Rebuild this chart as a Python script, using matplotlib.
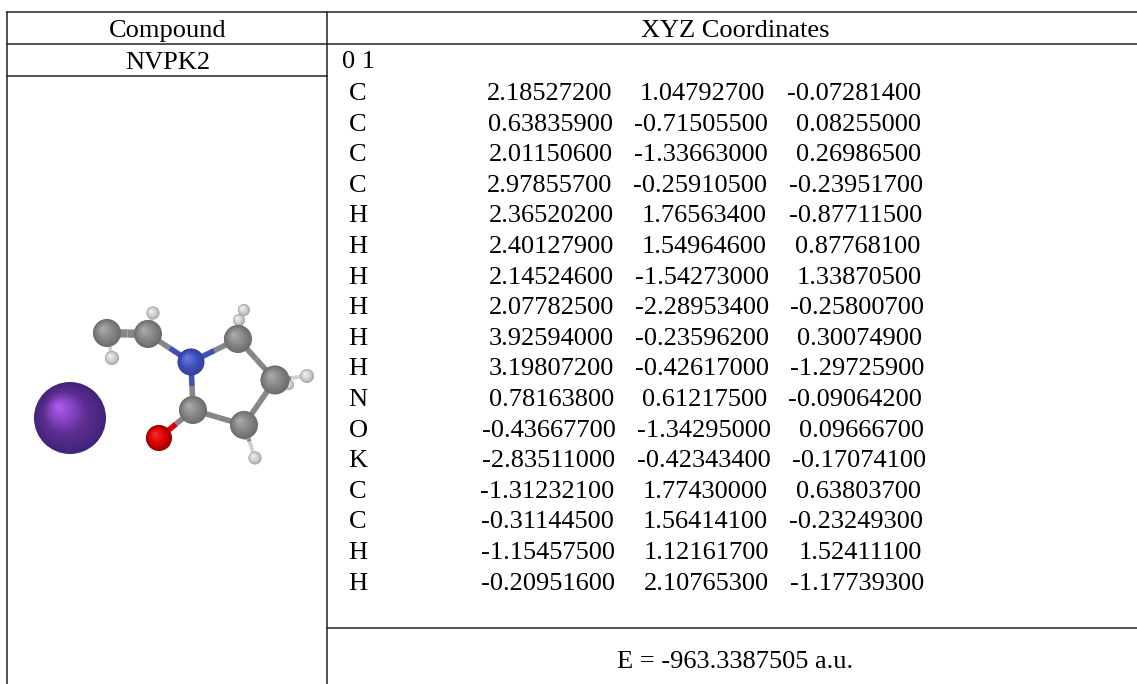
import matplotlib
matplotlib.use('Agg')
import matplotlib.pyplot as plt
import numpy as np
from matplotlib.patches import Circle

plt.rcParams['font.family'] = ['Liberation Serif', 'DejaVu Serif']

elements = ['C', 'C', 'C', 'C', 'H', 'H', 'H', 'H', 'H', 'H', 'N', 'O', 'K', 'C', 'C', 'H', 'H']
x_coord = ['2.18527200', '0.63835900', '2.01150600', '2.97855700', '2.36520200', '2.40127900',
           '2.14524600', '2.07782500', '3.92594000', '3.19807200', '0.78163800', '-0.43667700',
           '-2.83511000', '-1.31232100', '-0.31144500', '-1.15457500', '-0.20951600']
y_coord = ['1.04792700', '-0.71505500', '-1.33663000', '-0.25910500', '1.76563400', '1.54964600',
           '-1.54273000', '-2.28953400', '-0.23596200', '-0.42617000', '0.61217500', '-1.34295000',
           '-0.42343400', '1.77430000', '1.56414100', '1.12161700', '2.10765300']
z_coord = ['-0.07281400', '0.08255000', '0.26986500', '-0.23951700', '-0.87711500', '0.87768100',
           '1.33870500', '-0.25800700', '0.30074900', '-1.29725900', '-0.09064200', '0.09666700',
           '-0.17074100', '0.63803700', '-0.23249300', '1.52411100', '-1.17739300']

header_left = 'Compound'
header_right = 'XYZ Coordinates'
compound = 'NVPK2'
charge_line = '0 1'
energy = 'E = -963.3387505 a.u.'

# the columns were spaced by hand in the original, right edges wander a bit
x_right = [612.6, 612.6, 612.6, 612.6, 613.8, 613.8, 613.8, 613.8, 613.8, 613.8, 613.8,
           615.4, 615.4, 614.2, 614.2, 615.4, 615.4]
y_right = [764.8, 767.5, 767.5, 767.5, 766.8, 766.8, 768.7, 768.7, 768.7, 768.7, 766.8,
           770.7, 770.7, 767.5, 767.5, 768.7, 768.7]
z_right = [920.9, 920.9, 920.9, 922.9, 922.1, 920.1, 922.1, 924.1, 922.1, 924.1, 922.1,
           924.1, 926.5, 920.9, 922.9, 922.1, 924.1]

atom_x = [70, 289, 153, 112, 244, 239, 307, 246, 255, 107, 148, 238, 275, 244, 193, 159, 191]
atom_y = [418, 385, 313, 358, 310, 320, 376, 434, 458, 333, 334, 339, 380, 425, 410, 438, 362]
atom_r = [36, 5, 6.5, 7, 6, 6, 7, 6, 6.5, 14, 14, 14, 14.5, 14, 14, 13, 13.5]
atom_kind = ['K', 'H', 'H', 'H', 'H', 'H', 'H', 'H', 'H', 'C', 'C', 'C', 'C', 'C', 'C', 'O', 'N']
bond_from = [9, 10, 11, 12, 13, 14, 14, 16, 9, 10, 11, 11, 12, 12, 13, 13]
bond_to = [10, 16, 12, 13, 14, 16, 15, 11, 3, 2, 4, 5, 6, 1, 7, 8]

colours = {
    'K': ('#43247a', '#5c2e91', '#b25cf5'),
    'C': ('#6c6c6c', '#868686', '#adadad'),
    'H': ('#a8a8a8', '#d0d0d0', '#f4f4f4'),
    'N': ('#33409a', '#3f50bd', '#6f7ee0'),
    'O': ('#9a0000', '#df0000', '#f03030'),
}


def mix(c1, c2, t):
    a = np.array(matplotlib.colors.to_rgb(c1))
    b = np.array(matplotlib.colors.to_rgb(c2))
    return tuple(a + (b - a) * t)


def sphere(ax, x, y, r, kind):
    rim, base, high = colours[kind]
    steps = 30
    for i in range(steps):
        t = i / (steps - 1)
        if t < 0.4:
            col = mix(rim, base, t / 0.4)
        else:
            col = mix(base, high, (t - 0.4) / 0.6)
        rr = r * (1 - t * 0.97)
        cx = x - r * 0.33 * t
        cy = y - r * 0.33 * t
        ax.add_patch(Circle((cx, cy), rr, color=col, lw=0, zorder=3))


fig = plt.figure(figsize=(11.37, 6.84), dpi=100)
ax = fig.add_axes([0, 0, 1, 1])
ax.set_xlim(0, 1137)
ax.set_ylim(684, 0)
ax.axis('off')

# table rules
line = dict(color='#222222', lw=1.1, zorder=1)
ax.plot([7, 1137], [11.7, 11.7], **line)
ax.plot([7, 1137], [43.5, 43.5], **line)
ax.plot([7, 327], [75.7, 75.7], **line)
ax.plot([327, 1137], [627.7, 627.7], **line)
ax.plot([7, 7], [11.7, 684], **line)
ax.plot([327, 327], [11.7, 684], **line)

fs = 19
ax.text(167.3, 36.7, header_left, fontsize=fs, ha='center', va='baseline')
ax.text(735.5, 37, header_right, fontsize=fs, ha='center', va='baseline')
ax.text(167.3, 69, compound, fontsize=fs, ha='center', va='baseline')
ax.text(342, 68.3, charge_line, fontsize=fs, ha='left', va='baseline')
ax.text(735, 668, energy, fontsize=fs, ha='center', va='baseline')

row_y = 100
for k in range(len(elements)):
    ax.text(348.6, row_y, elements[k], fontsize=fs, ha='left', va='baseline')
    ax.text(x_right[k], row_y, x_coord[k], fontsize=fs, ha='right', va='baseline')
    ax.text(y_right[k], row_y, y_coord[k], fontsize=fs, ha='right', va='baseline')
    ax.text(z_right[k], row_y, z_coord[k], fontsize=fs, ha='right', va='baseline')
    row_y += 30.6

# bonds go under the atoms, each half takes the colour of its atom
for i, j in zip(bond_from, bond_to):
    width = 2.8 if atom_kind[j] == 'H' else 4
    if i == 9 and j == 10:
        width = 6
    mx = (atom_x[i] + atom_x[j]) / 2
    my = (atom_y[i] + atom_y[j]) / 2
    ax.plot([atom_x[i], mx], [atom_y[i], my], color=colours[atom_kind[i]][1], lw=width,
            solid_capstyle='butt', zorder=2)
    ax.plot([mx, atom_x[j]], [my, atom_y[j]], color=colours[atom_kind[j]][1], lw=width,
            solid_capstyle='butt', zorder=2)

for x, y, r, kind in zip(atom_x, atom_y, atom_r, atom_kind):
    sphere(ax, x, y, r, kind)

fig.savefig('out.png', dpi=100, facecolor='white')
